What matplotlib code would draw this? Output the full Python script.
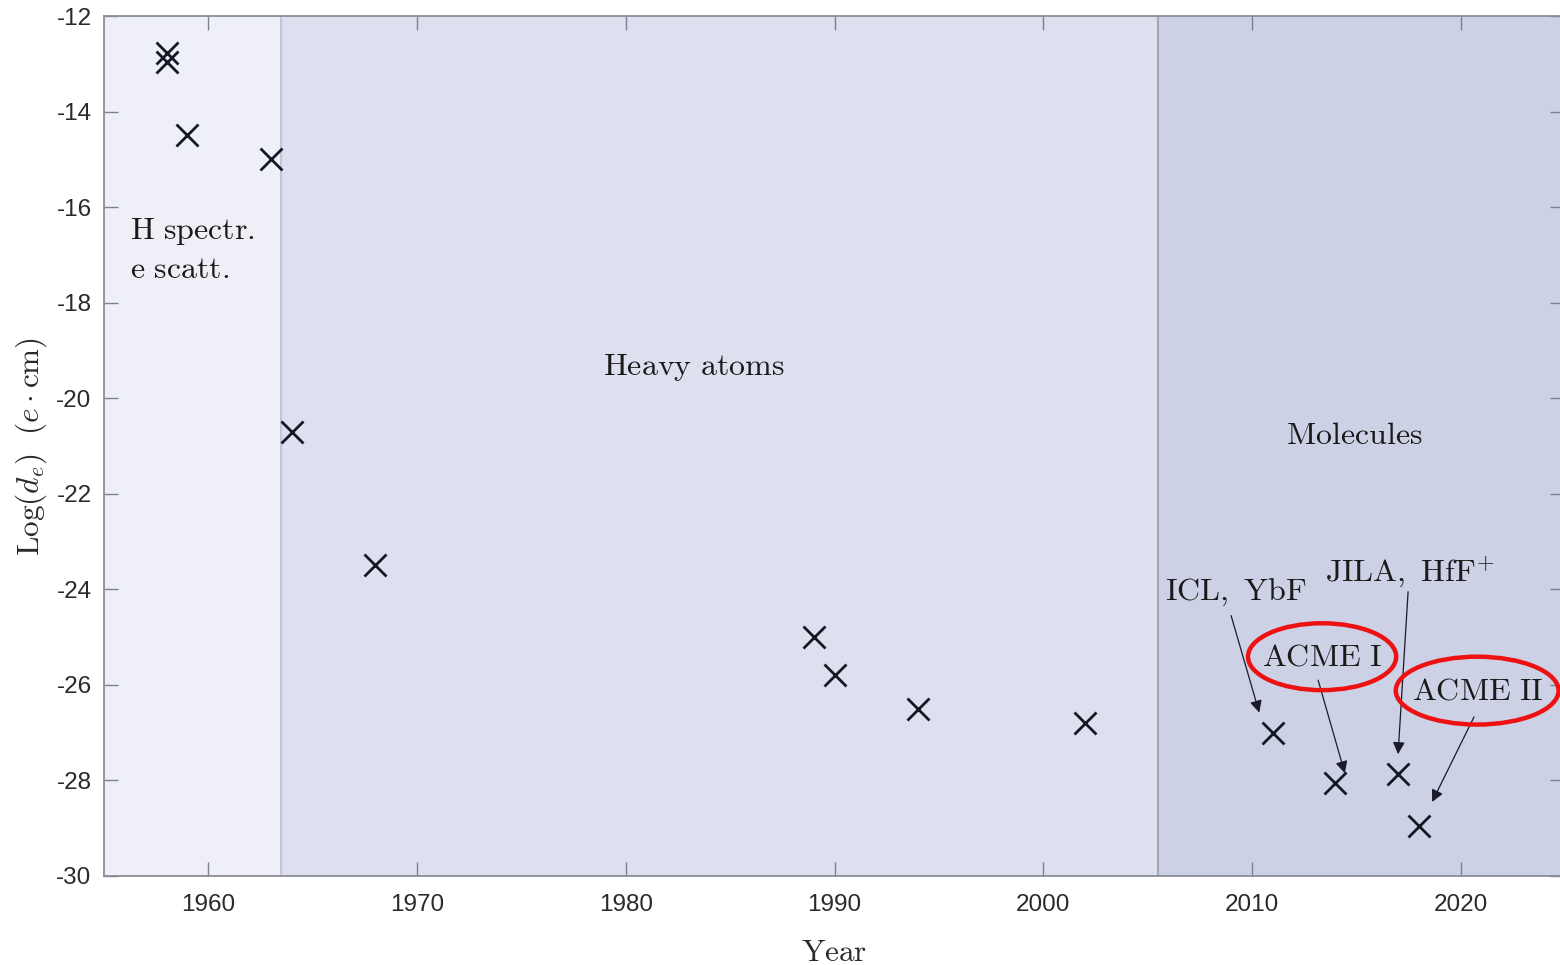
import matplotlib
matplotlib.use("Agg")
import matplotlib.pyplot as plt
from matplotlib.patches import Ellipse

plt.rcParams["mathtext.fontset"] = "cm"

# Electron EDM upper limits over time
years = [1958, 1958, 1959, 1963, 1964, 1968, 1989, 1990, 1994, 2002, 2011, 2014, 2017, 2018]
log_de = [-12.78, -12.97, -14.5, -15.0, -20.7, -23.5, -25.0, -25.8, -26.5, -26.8, -27.0, -28.05, -27.87, -28.95]

# Experimental eras (start, end)
era_bounds = [1955, 1963.5, 2005.5, 2025]
era_colors = ["#eff0f7", "#dee0ef", "#ccd1e5"]
era_labels = ["H spectr.\ne scatt.", "Heavy atoms", "Molecules"]

xticks = [1960, 1970, 1980, 1990, 2000, 2010, 2020]
yticks = [-30, -28, -26, -24, -22, -20, -18, -16, -14, -12]

# Annotated experiments: label, text position, arrow tail, arrow head
notes = [
    ("ICL, YbF", (2009.2, -24.07), (2009.0, -24.55), (2010.35, -26.58)),
    ("ACME I", (2013.36, -25.41), (2013.17, -25.9), (2014.45, -27.85)),
    ("JILA, HfF$^{+}$", (2017.55, -23.63), (2017.48, -24.05), (2017.0, -27.45)),
    ("ACME II", (2020.84, -26.12), (2020.64, -26.67), (2018.63, -28.45)),
]
circled = [("ACME I", (2013.36, -25.41), 7.1, 1.40), ("ACME II", (2020.79, -26.12), 7.8, 1.42)]

fig = plt.figure(figsize=(15.6, 9.65), dpi=100)
ax = fig.add_axes([104 / 1560, 89 / 965, 1460 / 1560, 860 / 965])

for i in range(3):
    ax.axvspan(era_bounds[i], era_bounds[i + 1], color=era_colors[i], lw=0, zorder=0)
ax.axvline(era_bounds[1], color="#c4c6d2", lw=1.5, zorder=1)
ax.axvline(era_bounds[2], color="#a3a6b4", lw=1.5, zorder=1)

ax.plot(years, log_de, linestyle="none", marker="x", markersize=16,
        markeredgewidth=2.0, color="#141824", zorder=3)


def cm(s):
    # Computer Modern roman via mathtext
    parts = s.split("$")
    out = []
    for k, p in enumerate(parts):
        if k % 2 == 0:
            if p:
                out.append(r"$\mathrm{" + p.replace(" ", r"\ ") + "}$")
        else:
            out.append("$" + p + "$")
    return "".join(out)


FS = 23
TXT = "#1a1a1a"
ax.text(1956.25, -16.5, cm("H spectr."), fontsize=FS, va="center", ha="left", color=TXT)
ax.text(1956.25, -17.3, cm("e scatt."), fontsize=FS, va="center", ha="left", color=TXT)
ax.text(1983.27, -19.36, cm(era_labels[1]), fontsize=FS, va="center", ha="center", color=TXT)
ax.text(2014.9, -20.77, cm(era_labels[2]), fontsize=FS, va="center", ha="center", color=TXT)

for label, tpos, tail, head in notes:
    ax.text(tpos[0], tpos[1], cm(label), fontsize=FS, va="center", ha="center", color=TXT, zorder=4)
    ax.annotate("", xy=head, xytext=tail,
                arrowprops=dict(arrowstyle="-|>", color="#1a1a2a", lw=0.9,
                                mutation_scale=18, shrinkA=0, shrinkB=0), zorder=4)

for label, c, w, h in circled:
    ax.add_patch(Ellipse(c, w, h, fill=False, edgecolor="#ee1111", lw=3.2, zorder=5, clip_on=False))

ax.set_xlim(1955, 2024.95)
ax.set_ylim(-30, -12)
ax.set_xticks(xticks)
ax.set_yticks(yticks)
ax.set_xticklabels([str(t) for t in xticks], family="Liberation Sans", fontsize=17.5, color="#2a2a2a")
ax.set_yticklabels([str(t) for t in yticks], family="Liberation Sans", fontsize=17.5, color="#2a2a2a")
ax.tick_params(direction="in", length=10, width=1.0, color="#7d8090", top=True, right=True)
ax.tick_params(axis="x", pad=13)
ax.tick_params(axis="y", pad=9)
for s in ax.spines.values():
    s.set_color("#8a8c98")
    s.set_linewidth(1.3)

ax.set_xlabel(r"$\mathrm{Year}$", fontsize=22.5, labelpad=16, color="#2a2a2a")
ax.set_ylabel(r"$\mathrm{Log}(d_e)\ \ (e \cdot \mathrm{cm})$", fontsize=22.5, labelpad=5, color="#2a2a2a")

fig.savefig("out.png", dpi=100, facecolor="white")
